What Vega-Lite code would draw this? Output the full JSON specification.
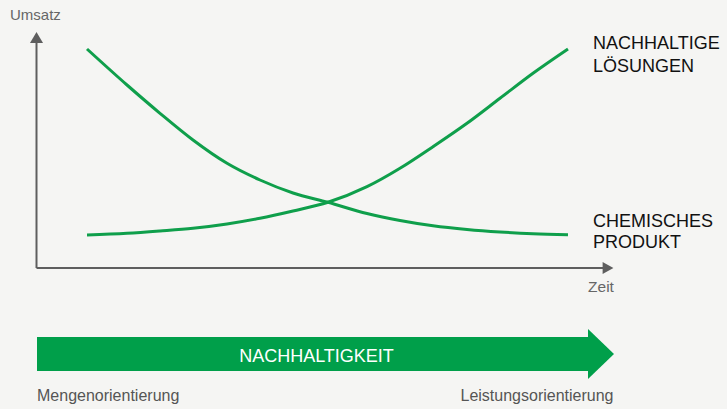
{
  "$schema": "https://vega.github.io/schema/vega-lite/v6.json",
  "width": 727,
  "height": 409,
  "autosize": {"type": "fit", "contains": "padding"},
  "padding": 0,
  "background": "#f5f5f3",
  "config": {"view": {"stroke": null}, "font": "Liberation Sans", "text": {"font": "Liberation Sans"}},
  "datasets": {
    "curves": [
      {"series": "Nachhaltige Lösungen", "t": 87, "v": 235},
      {"series": "Nachhaltige Lösungen", "t": 127, "v": 233.3},
      {"series": "Nachhaltige Lösungen", "t": 160, "v": 231},
      {"series": "Nachhaltige Lösungen", "t": 193, "v": 228.3},
      {"series": "Nachhaltige Lösungen", "t": 227, "v": 224},
      {"series": "Nachhaltige Lösungen", "t": 260, "v": 218.3},
      {"series": "Nachhaltige Lösungen", "t": 293, "v": 211},
      {"series": "Nachhaltige Lösungen", "t": 328, "v": 202.3},
      {"series": "Nachhaltige Lösungen", "t": 367, "v": 186.7},
      {"series": "Nachhaltige Lösungen", "t": 400, "v": 168.3},
      {"series": "Nachhaltige Lösungen", "t": 433, "v": 146.7},
      {"series": "Nachhaltige Lösungen", "t": 467, "v": 123.3},
      {"series": "Nachhaltige Lösungen", "t": 500, "v": 98.3},
      {"series": "Nachhaltige Lösungen", "t": 533, "v": 73.3},
      {"series": "Nachhaltige Lösungen", "t": 568, "v": 49},
      {"series": "Chemisches Produkt", "t": 87, "v": 49},
      {"series": "Chemisches Produkt", "t": 127, "v": 85},
      {"series": "Chemisches Produkt", "t": 160, "v": 113.3},
      {"series": "Chemisches Produkt", "t": 193, "v": 140},
      {"series": "Chemisches Produkt", "t": 227, "v": 163.3},
      {"series": "Chemisches Produkt", "t": 260, "v": 180},
      {"series": "Chemisches Produkt", "t": 293, "v": 193},
      {"series": "Chemisches Produkt", "t": 328, "v": 202.3},
      {"series": "Chemisches Produkt", "t": 367, "v": 213.5},
      {"series": "Chemisches Produkt", "t": 400, "v": 220.5},
      {"series": "Chemisches Produkt", "t": 433, "v": 225.8},
      {"series": "Chemisches Produkt", "t": 467, "v": 229.5},
      {"series": "Chemisches Produkt", "t": 500, "v": 232},
      {"series": "Chemisches Produkt", "t": 533, "v": 233.7},
      {"series": "Chemisches Produkt", "t": 568, "v": 234.7}
    ],
    "axes": [
      {"axis": "y", "t": 36.5, "v": 268},
      {"axis": "y", "t": 36.5, "v": 42},
      {"axis": "x", "t": 36.5, "v": 268},
      {"axis": "x", "t": 603, "v": 268}
    ],
    "yhead": [{"t": 36.5, "v": 37.5}],
    "xhead": [{"t": 608, "v": 268}],
    "bar": [{"t0": 37, "t1": 589, "v0": 337, "v1": 371}],
    "barhead": [{"t": 601, "v": 354}],
    "labels": [
      {"t": 593, "v": 49.3, "text": "NACHHALTIGE"},
      {"t": 593, "v": 71.5, "text": "LÖSUNGEN"},
      {"t": 593, "v": 226.5, "text": "CHEMISCHES"},
      {"t": 593, "v": 247.5, "text": "PRODUKT"}
    ]
  },
  "encoding": {
    "x": {"field": "t", "type": "quantitative", "scale": {"domain": [0, 727], "nice": false, "zero": false}, "axis": null},
    "y": {"field": "v", "type": "quantitative", "scale": {"domain": [0, 409], "nice": false, "zero": false, "reverse": true}, "axis": null}
  },
  "layer": [
    {
      "data": {"name": "axes"},
      "mark": {"type": "line", "color": "#5e5e5e", "strokeWidth": 2},
      "encoding": {"detail": {"field": "axis"}}
    },
    {
      "data": {"name": "yhead"},
      "mark": {"type": "point", "shape": "M0,-0.85L1,0.85L-1,0.85Z", "size": 169, "filled": true, "color": "#5e5e5e", "opacity": 1, "strokeWidth": 0}
    },
    {
      "data": {"name": "xhead"},
      "mark": {"type": "point", "shape": "M0.9,0L-0.9,-1L-0.9,1Z", "size": 144, "filled": true, "color": "#5e5e5e", "opacity": 1, "strokeWidth": 0}
    },
    {
      "data": {"name": "curves"},
      "mark": {"type": "line", "color": "#0f9f4b", "strokeWidth": 3, "interpolate": "monotone"},
      "encoding": {"detail": {"field": "series"}}
    },
    {
      "data": {"name": "bar"},
      "mark": {"type": "rect", "color": "#009f4a"},
      "encoding": {
        "x": {"field": "t0", "type": "quantitative"},
        "x2": {"field": "t1"},
        "y": {"field": "v0", "type": "quantitative"},
        "y2": {"field": "v1"}
      }
    },
    {
      "data": {"name": "barhead"},
      "mark": {"type": "point", "shape": "M-0.52,-1L0.52,0L-0.52,1Z", "size": 2500, "filled": true, "color": "#009f4a", "opacity": 1, "strokeWidth": 0}
    },
    {
      "data": {"name": "labels"},
      "mark": {"type": "text", "font": "Liberation Sans", "align": "left", "baseline": "alphabetic", "fontSize": 18, "color": "#111111"},
      "encoding": {"text": {"field": "text"}}
    },
    {
      "data": {"values": [{"t": 10, "v": 20, "text": "Umsatz"}]},
      "mark": {"type": "text", "font": "Liberation Sans", "align": "left", "baseline": "alphabetic", "fontSize": 15, "color": "#666666"},
      "encoding": {"text": {"field": "text"}}
    },
    {
      "data": {"values": [{"t": 601, "v": 291.5, "text": "Zeit"}]},
      "mark": {"type": "text", "font": "Liberation Sans", "align": "center", "baseline": "alphabetic", "fontSize": 15.5, "color": "#666666"},
      "encoding": {"text": {"field": "text"}}
    },
    {
      "data": {"values": [{"t": 316.5, "v": 361.5, "text": "NACHHALTIGKEIT"}]},
      "mark": {"type": "text", "font": "Liberation Sans", "align": "center", "baseline": "alphabetic", "fontSize": 18, "color": "#ffffff"},
      "encoding": {"text": {"field": "text"}}
    },
    {
      "data": {"values": [{"t": 37, "v": 401, "text": "Mengenorientierung"}]},
      "mark": {"type": "text", "font": "Liberation Sans", "align": "left", "baseline": "alphabetic", "fontSize": 16, "color": "#555555"},
      "encoding": {"text": {"field": "text"}}
    },
    {
      "data": {"values": [{"t": 613.5, "v": 401, "text": "Leistungsorientierung"}]},
      "mark": {"type": "text", "font": "Liberation Sans", "align": "right", "baseline": "alphabetic", "fontSize": 16, "color": "#555555"},
      "encoding": {"text": {"field": "text"}}
    }
  ]
}
